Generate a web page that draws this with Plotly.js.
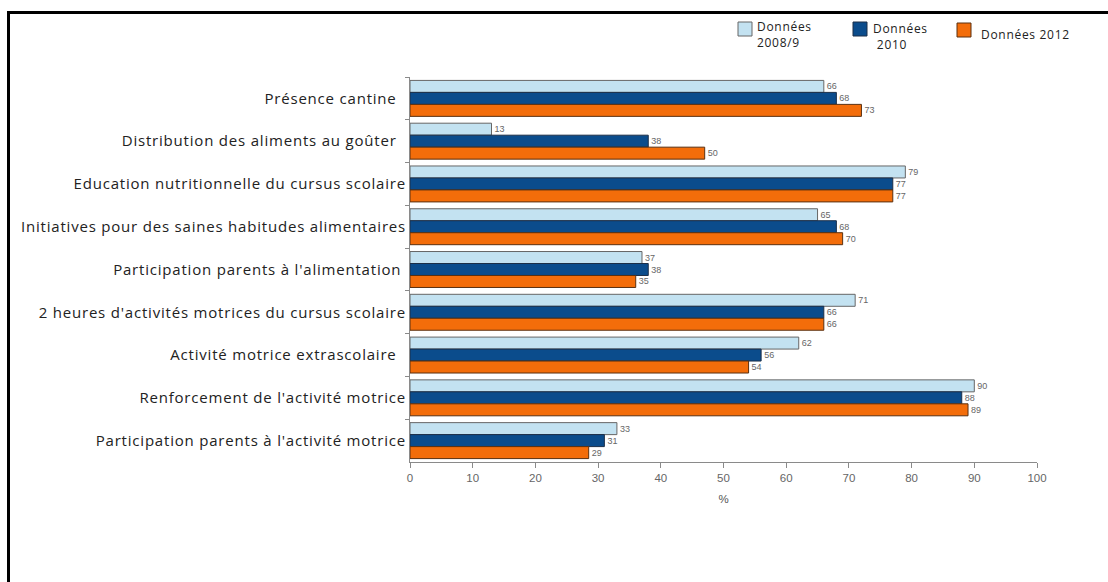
<!DOCTYPE html>
<html>
<head>
<meta charset="utf-8">
<script src="https://cdn.plot.ly/plotly-3.0.1.min.js"></script>
<style>
  html, body { margin: 0; padding: 0; background: #fff; }
  #chart { width: 1108px; height: 582px; }
  #chart .ytick text { letter-spacing: 0.8px; }
  #chart .annotation-text { letter-spacing: 0.7px; }
</style>
</head>
<body>
<div id="chart"></div>
<script>
const categories = [
  "Présence cantine\u00a0\u00a0",
  "Distribution des aliments au goûter\u00a0\u00a0",
  "Education nutritionnelle du cursus scolaire",
  "Initiatives pour des saines habitudes alimentaires",
  "Participation parents à l'alimentation\u00a0",
  "2 heures d'activités motrices du cursus scolaire",
  "Activité motrice extrascolaire\u00a0\u00a0",
  "Renforcement de l'activité motrice",
  "Participation parents à l'activité motrice"
];
const seriesNames = ["Données<br>2008/9", "Données<br>\u00a02010", "Données 2012"];
const values2008 = [66, 13, 79, 65, 37, 71, 62, 90, 33];
const values2010 = [68, 38, 77, 68, 38, 66, 56, 88, 31];
// bar lengths as drawn in the picture
const values2012 = [72, 47, 77, 69, 36, 66, 54, 89, 28.5];
// printed value labels
const labels2008 = ["66", "13", "79", "65", "37", "71", "62", "90", "33"];
const labels2010 = ["68", "38", "77", "68", "38", "66", "56", "88", "31"];
const labels2012 = ["73", "50", "77", "70", "35", "66", "54", "89", "29"];
const xTicks = [0, 10, 20, 30, 40, 50, 60, 70, 80, 90, 100];

const colors = ["#c3e2f1", "#0b4c8c", "#f36d0a"];
const lineColors = ["#666666", "#1c2f48", "#5a3010"];
const allValues = [values2008, values2010, values2012];
const allLabels = [labels2008, labels2010, labels2012];

const traces = allValues.map((vals, i) => ({
  type: "bar",
  orientation: "h",
  name: seriesNames[i],
  y: categories,
  x: vals,
  text: allLabels[i],
  textposition: "outside",
  texttemplate: "%{text}",
  constraintext: "none",
  cliponaxis: false,
  showlegend: false,
  textfont: { family: "Liberation Sans, Arial, sans-serif", size: 9, color: "#666" },
  marker: { color: colors[i], line: { color: lineColors[i], width: 1 } },
  hoverinfo: "x+y"
}));

const L = 410, R = 71, T = 77, B = 120;
const W = 1108, H = 582;
const pw = W - L - R, ph = H - T - B;
const px = v => (v - L) / pw;
const py = v => (H - B - v) / ph;

// legend drawn with paper-referenced swatches and labels
const legendBoxes = [[738, 22], [853, 22], [957, 23]];
const legendText = [[755, 34], [871, 37], [979, 34]];
const legendShapes = legendBoxes.map((b, i) => ({
  type: "rect", xref: "paper", yref: "paper",
  x0: px(b[0]), x1: px(b[0] + 14), y0: py(b[1]), y1: py(b[1] + 14),
  fillcolor: colors[i], line: { color: lineColors[i], width: 1 }
}));
const legendAnnots = legendText.map((t, i) => ({
  xref: "paper", yref: "paper",
  x: px(t[0]), y: py(t[1]),
  xanchor: "left", yanchor: "middle", align: "left",
  showarrow: false,
  text: seriesNames[i],
  font: { family: "Open Sans, sans-serif", size: 12, color: "#222" }
}));

const layout = {
  width: W,
  height: H,
  margin: { l: L, r: R, t: T, b: B, pad: 0 },
  paper_bgcolor: "#fff",
  plot_bgcolor: "#fff",
  barmode: "group",
  bargap: 0.16,
  bargroupgap: 0,
  showlegend: false,
  font: { family: "Open Sans, sans-serif", color: "#222" },
  xaxis: {
    range: [0, 100],
    tickvals: xTicks,
    ticktext: xTicks.map(String),
    showgrid: false,
    zeroline: false,
    showline: true,
    linecolor: "#8a8a8a",
    linewidth: 1,
    ticks: "outside",
    ticklen: 5,
    tickcolor: "#8a8a8a",
    tickfont: { family: "Liberation Sans, Arial, sans-serif", size: 11.5, color: "#666" },
    title: { text: "%", font: { family: "Liberation Sans, Arial, sans-serif", size: 11.5, color: "#555" }, standoff: 12 },
    fixedrange: true
  },
  yaxis: {
    type: "category",
    autorange: "reversed",
    showgrid: false,
    zeroline: false,
    showline: true,
    linecolor: "#8a8a8a",
    linewidth: 1,
    ticks: "outside",
    tickson: "boundaries",
    ticklen: 4,
    tickcolor: "#8a8a8a",
    tickfont: { family: "Open Sans, sans-serif", size: 15, color: "#222" },
    fixedrange: true
  },
  annotations: legendAnnots,
  shapes: [
    { type: "line", xref: "paper", yref: "paper", x0: px(8.5), x1: px(1110), y0: py(12.5), y1: py(12.5), line: { color: "#000", width: 3 } },
    { type: "line", xref: "paper", yref: "paper", x0: px(8.5), x1: px(8.5), y0: py(11), y1: py(590), line: { color: "#000", width: 3 } }
  ].concat(legendShapes)
};

Plotly.newPlot("chart", traces, layout, { displayModeBar: false, staticPlot: true });
</script>
</body>
</html>
